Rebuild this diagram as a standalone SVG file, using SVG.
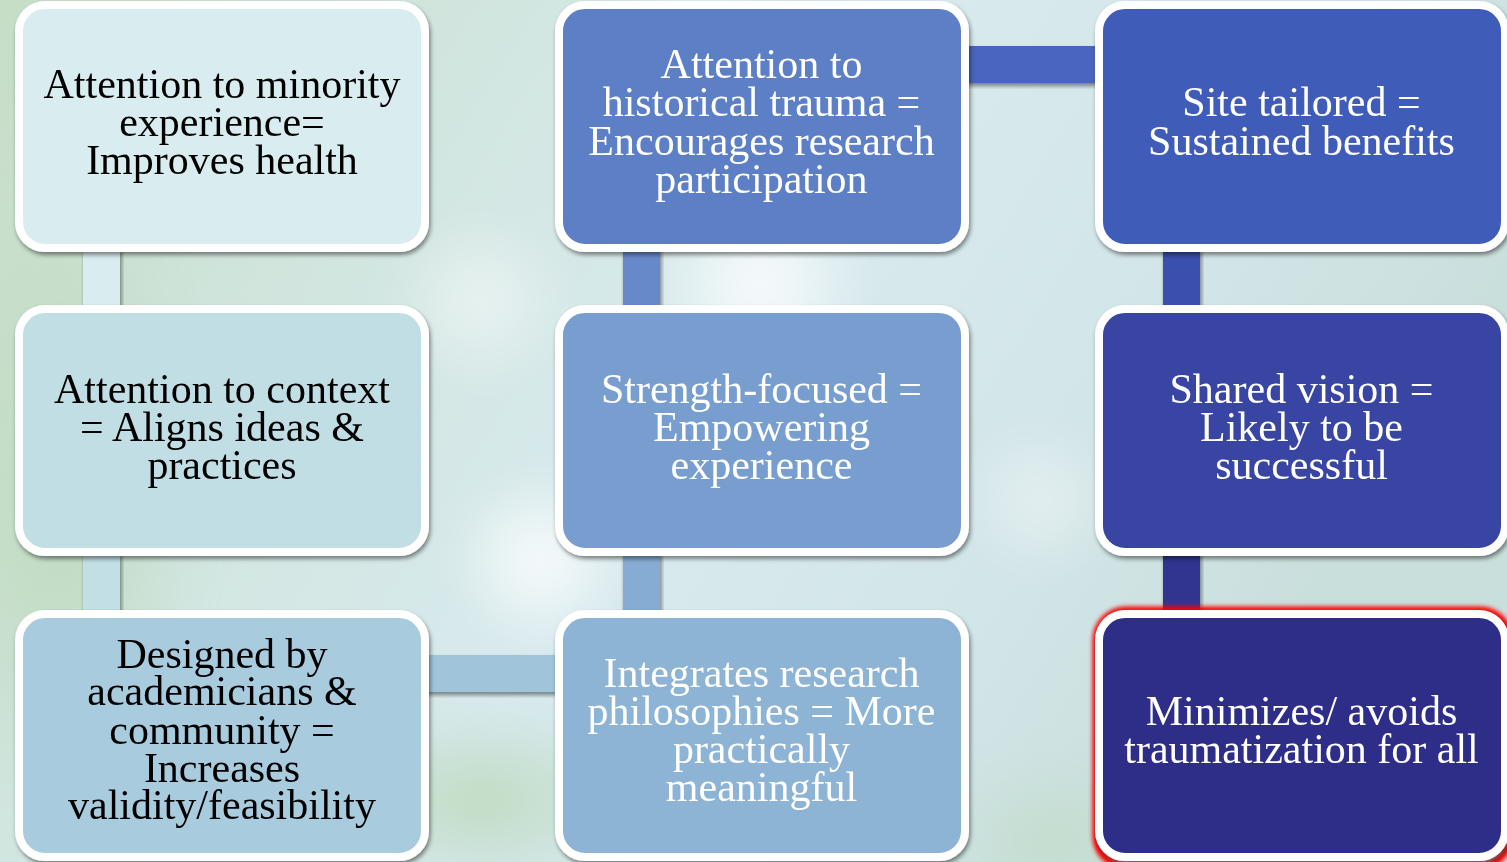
<svg xmlns="http://www.w3.org/2000/svg" width="1507" height="862" viewBox="0 0 1507 862">
  <defs>
    <linearGradient id="bgBase" x1="0" y1="0" x2="1" y2="0.35">
      <stop offset="0" stop-color="#c6ddc6"/>
      <stop offset="0.3" stop-color="#d2e6e0"/>
      <stop offset="0.55" stop-color="#d8eaee"/>
      <stop offset="0.8" stop-color="#d2e5e8"/>
      <stop offset="1" stop-color="#c9dfdc"/>
    </linearGradient>
    <radialGradient id="glowWhite">
      <stop offset="0" stop-color="#ffffff" stop-opacity="0.85"/>
      <stop offset="0.6" stop-color="#ffffff" stop-opacity="0.35"/>
      <stop offset="1" stop-color="#ffffff" stop-opacity="0"/>
    </radialGradient>
    <radialGradient id="glowGreen">
      <stop offset="0" stop-color="#bcd9bb" stop-opacity="0.9"/>
      <stop offset="1" stop-color="#bcd9bb" stop-opacity="0"/>
    </radialGradient>
    <filter id="shadow" x="-5%" y="-5%" width="115%" height="120%">
      <feDropShadow dx="1.5" dy="3" stdDeviation="2" flood-color="#000" flood-opacity="0.45"/>
    </filter>
    <filter id="redGlow" x="-10%" y="-10%" width="120%" height="120%">
      <feGaussianBlur stdDeviation="2"/>
    </filter>
    <filter id="soft" x="-50%" y="-50%" width="200%" height="200%">
      <feGaussianBlur stdDeviation="18"/>
    </filter>
    <style>
      .box { stroke: #ffffff; stroke-width: 8; filter: url(#shadow); }
      .conn { filter: url(#shadow); }
      .lbl { font-family: "Liberation Serif", "Times New Roman", serif; font-size: 42px; text-anchor: middle; }
      .dark { fill: #000000; }
      .light { fill: #ffffff; }
    </style>
  </defs>

  <!-- soft backdrop -->
  <rect x="0" y="0" width="1507" height="862" fill="url(#bgBase)"/>
  <g filter="url(#soft)">
    <ellipse cx="60" cy="500" rx="140" ry="330" fill="url(#glowGreen)"/>
    <ellipse cx="480" cy="800" rx="160" ry="90" fill="url(#glowGreen)"/>
    <circle cx="540" cy="560" r="90" fill="url(#glowWhite)"/>
    <circle cx="760" cy="285" r="110" fill="url(#glowWhite)"/>
    <circle cx="480" cy="300" r="90" fill="url(#glowWhite)" opacity="0.6"/>
    <circle cx="1040" cy="500" r="80" fill="url(#glowWhite)" opacity="0.5"/>
    <circle cx="700" cy="20" r="90" fill="url(#glowWhite)" opacity="0.6"/>
    <ellipse cx="1050" cy="840" rx="110" ry="80" fill="url(#glowGreen)" opacity="0.6"/>
  </g>

  <!-- connectors between the steps -->
  <g id="connectors">
    <rect class="conn" x="83" y="248" width="37" height="62" fill="#d9ecef"/>
    <rect class="conn" x="83" y="552" width="37" height="62" fill="#c2dfe6"/>
    <rect class="conn" x="425" y="655" width="134" height="37" fill="#a0c5da"/>
    <rect class="conn" x="623" y="552" width="37" height="62" fill="#86acd4"/>
    <rect class="conn" x="623" y="248" width="37" height="62" fill="#6789c9"/>
    <rect class="conn" x="964" y="46" width="135" height="37" fill="#4865bf"/>
    <rect class="conn" x="1163" y="248" width="37" height="62" fill="#3b4fae"/>
    <rect class="conn" x="1163" y="552" width="37" height="62" fill="#313590"/>
  </g>

  <g id="step-minority">
    <rect class="box" x="19" y="5" width="406" height="243" rx="26" fill="#d9ecef"/>
    <text class="lbl dark" x="222" y="98">Attention to minority</text>
    <text class="lbl dark" x="222" y="136">experience=</text>
    <text class="lbl dark" x="222" y="174">Improves health</text>
  </g>

  <g id="step-context">
    <rect class="box" x="19" y="309" width="406" height="243" rx="26" fill="#c1dee5"/>
    <text class="lbl dark" x="222" y="403">Attention to context</text>
    <text class="lbl dark" x="222" y="441">= Aligns ideas &amp;</text>
    <text class="lbl dark" x="222" y="479">practices</text>
  </g>

  <g id="step-designed">
    <rect class="box" x="19" y="614" width="406" height="243" rx="26" fill="#a8cbdd"/>
    <text class="lbl dark" x="222" y="668">Designed by</text>
    <text class="lbl dark" x="222" y="705">academicians &amp;</text>
    <text class="lbl dark" x="222" y="744">community =</text>
    <text class="lbl dark" x="222" y="782">Increases</text>
    <text class="lbl dark" x="222" y="819">validity/feasibility</text>
  </g>

  <g id="step-integrates">
    <rect class="box" x="559" y="614" width="406" height="243" rx="26" fill="#8db3d5"/>
    <text class="lbl light" x="761.5" y="687">Integrates research</text>
    <text class="lbl light" x="761.5" y="725">philosophies = More</text>
    <text class="lbl light" x="761.5" y="763">practically</text>
    <text class="lbl light" x="761.5" y="801">meaningful</text>
  </g>

  <g id="step-strength">
    <rect class="box" x="559" y="309" width="406" height="243" rx="26" fill="#789ecf"/>
    <text class="lbl light" x="761.5" y="403">Strength-focused =</text>
    <text class="lbl light" x="761.5" y="441">Empowering</text>
    <text class="lbl light" x="761.5" y="479">experience</text>
  </g>

  <g id="step-historical">
    <rect class="box" x="559" y="5" width="406" height="243" rx="26" fill="#5b7fc5"/>
    <text class="lbl light" x="761.5" y="78">Attention to</text>
    <text class="lbl light" x="761.5" y="116">historical trauma =</text>
    <text class="lbl light" x="761.5" y="155">Encourages research</text>
    <text class="lbl light" x="761.5" y="193">participation</text>
  </g>

  <g id="step-site">
    <rect class="box" x="1099" y="5" width="406" height="243" rx="26" fill="#3f5bb9"/>
    <text class="lbl light" x="1301.5" y="116">Site tailored =</text>
    <text class="lbl light" x="1301.5" y="155">Sustained benefits</text>
  </g>

  <g id="step-vision">
    <rect class="box" x="1099" y="309" width="406" height="243" rx="26" fill="#3944a2"/>
    <text class="lbl light" x="1301.5" y="403">Shared vision =</text>
    <text class="lbl light" x="1301.5" y="441">Likely to be</text>
    <text class="lbl light" x="1301.5" y="479">successful</text>
  </g>

  <g id="step-minimizes">
    <rect x="1096" y="610" width="414" height="256" rx="30" fill="none" stroke="#ff0000" stroke-width="7" filter="url(#redGlow)"/>
    <rect class="box" x="1099" y="614" width="406" height="243" rx="26" fill="#2e2f89"/>
    <text class="lbl light" x="1301.5" y="725">Minimizes/ avoids</text>
    <text class="lbl light" x="1301.5" y="763">traumatization for all</text>
  </g>
</svg>
